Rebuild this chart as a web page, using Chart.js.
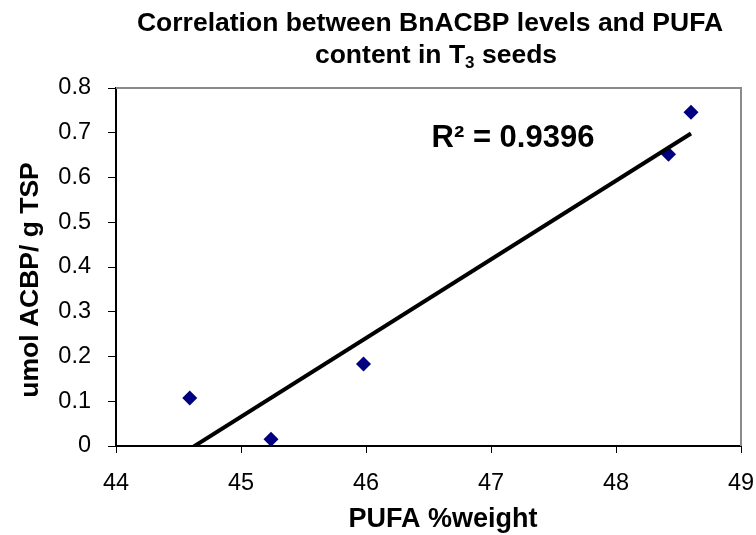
<!DOCTYPE html>
<html>
<head>
<style>
  body { margin: 0; background: #fff; }
  canvas { display: block; }
</style>
</head>
<body>
<canvas id="myChart" width="756" height="535"></canvas>
<script src="https://cdn.jsdelivr.net/npm/chart.js@4"></script>
<script>
// values
const pufa = [44.59, 45.24, 45.98, 48.42, 48.60];
const acbp = [0.107, 0.015, 0.183, 0.652, 0.746];
const xTicks = [44, 45, 46, 47, 48, 49];
const yTicks = [0, 0.1, 0.2, 0.3, 0.4, 0.5, 0.6, 0.7, 0.8];
const r2Label = 'R² = 0.9396';

const FONT = '"Liberation Sans", Arial, sans-serif';

// linear trendline (least squares) from the points
function fit(xs, ys) {
  let n = xs.length, mx = 0, my = 0;
  for (let i = 0; i < n; i++) { mx += xs[i]; my += ys[i]; }
  mx /= n; my /= n;
  let sxy = 0, sxx = 0;
  for (let i = 0; i < n; i++) {
    sxy += (xs[i] - mx) * (ys[i] - my);
    sxx += (xs[i] - mx) * (xs[i] - mx);
  }
  let b = sxy / sxx;
  return x => my + b * (x - mx);
}
const f = fit(pufa, acbp);
const xmin = Math.min(...pufa), xmax = Math.max(...pufa);
const trend = [{x: xmin, y: f(xmin)}, {x: xmax, y: f(xmax)}];

const textPlugin = {
  id: 'texts',
  afterDraw(chart) {
    const ctx = chart.ctx;
    const a = chart.chartArea;
    ctx.save();
    // grey frame top/right
    ctx.strokeStyle = '#8a8a8a';
    ctx.lineWidth = 2;
    ctx.beginPath();
    ctx.moveTo(a.left, a.top);
    ctx.lineTo(a.right, a.top);
    ctx.lineTo(a.right, a.bottom);
    ctx.stroke();

    ctx.fillStyle = '#000';
    ctx.textBaseline = 'alphabetic';
    // title
    ctx.font = 'bold 26.5px ' + FONT;
    ctx.textAlign = 'center';
    ctx.fillText('Correlation between BnACBP levels and PUFA', 430, 31);
    const p1 = 'content in T', p2 = ' seeds';
    ctx.textAlign = 'left';
    let w1 = ctx.measureText(p1).width, w2 = ctx.measureText(p2).width;
    ctx.font = 'bold 17px ' + FONT;
    let ws = ctx.measureText('3').width;
    let x0 = 436 - (w1 + ws + w2) / 2;
    ctx.font = 'bold 26.5px ' + FONT;
    ctx.fillText(p1, x0, 63);
    ctx.fillText(p2, x0 + w1 + ws, 63);
    ctx.font = 'bold 17px ' + FONT;
    ctx.fillText('3', x0 + w1, 68);

    // axis titles
    ctx.font = 'bold 27px ' + FONT;
    ctx.textAlign = 'center';
    ctx.fillText('PUFA %weight', 443, 527);
    ctx.save();
    ctx.translate(38, 280);
    ctx.rotate(-Math.PI / 2);
    ctx.font = 'bold 26.5px ' + FONT;
    ctx.fillText('umol ACBP/ g TSP', 0, 0);
    ctx.restore();

    // R squared
    ctx.font = 'bold 31px ' + FONT;
    ctx.fillText(r2Label, 513, 147);
    ctx.restore();
  }
};

new Chart(document.getElementById('myChart'), {
  type: 'scatter',
  data: {
    datasets: [
      {
        type: 'line',
        data: trend,
        borderColor: '#000',
        borderWidth: 4,
        pointRadius: 0,
        fill: false,
        clip: 0,
        order: 0
      },
      {
        data: pufa.map((x, i) => ({x: x, y: acbp[i]})),
        pointStyle: 'rectRot',
        pointRadius: 7.5,
        pointBackgroundColor: '#000080',
        pointBorderColor: '#000080',
        pointBorderWidth: 0,
        order: 1
      }
    ]
  },
  options: {
    responsive: false,
    animation: false,
    devicePixelRatio: 1,
    layout: { padding: { left: 0, top: 88, right: 15, bottom: 0 } },
    plugins: { legend: { display: false }, tooltip: { enabled: false }, title: { display: false } },
    scales: {
      x: {
        type: 'linear',
        min: 44, max: 49,
        afterFit: s => { s.height = 89; s.paddingLeft = 0; s.paddingRight = 0; },
        afterBuildTicks: s => { s.ticks = xTicks.map(v => ({value: v})); },
        ticks: { color: '#000', font: { family: FONT, size: 23.5 }, padding: 16, maxRotation: 0 },
        grid: { drawOnChartArea: false, tickLength: 7, color: '#000', lineWidth: 1 },
        border: { color: '#000', width: 2 }
      },
      y: {
        min: 0, max: 0.8,
        afterFit: s => { s.width = 116; s.paddingTop = 0; s.paddingBottom = 0; },
        afterBuildTicks: s => { s.ticks = yTicks.map(v => ({value: v})); },
        ticks: { color: '#000', font: { family: FONT, size: 23.5 }, padding: 17 },
        grid: { drawOnChartArea: false, tickLength: 8, color: '#000', lineWidth: 1 },
        border: { color: '#000', width: 2 }
      }
    }
  },
  plugins: [textPlugin]
});
</script>
</body>
</html>
